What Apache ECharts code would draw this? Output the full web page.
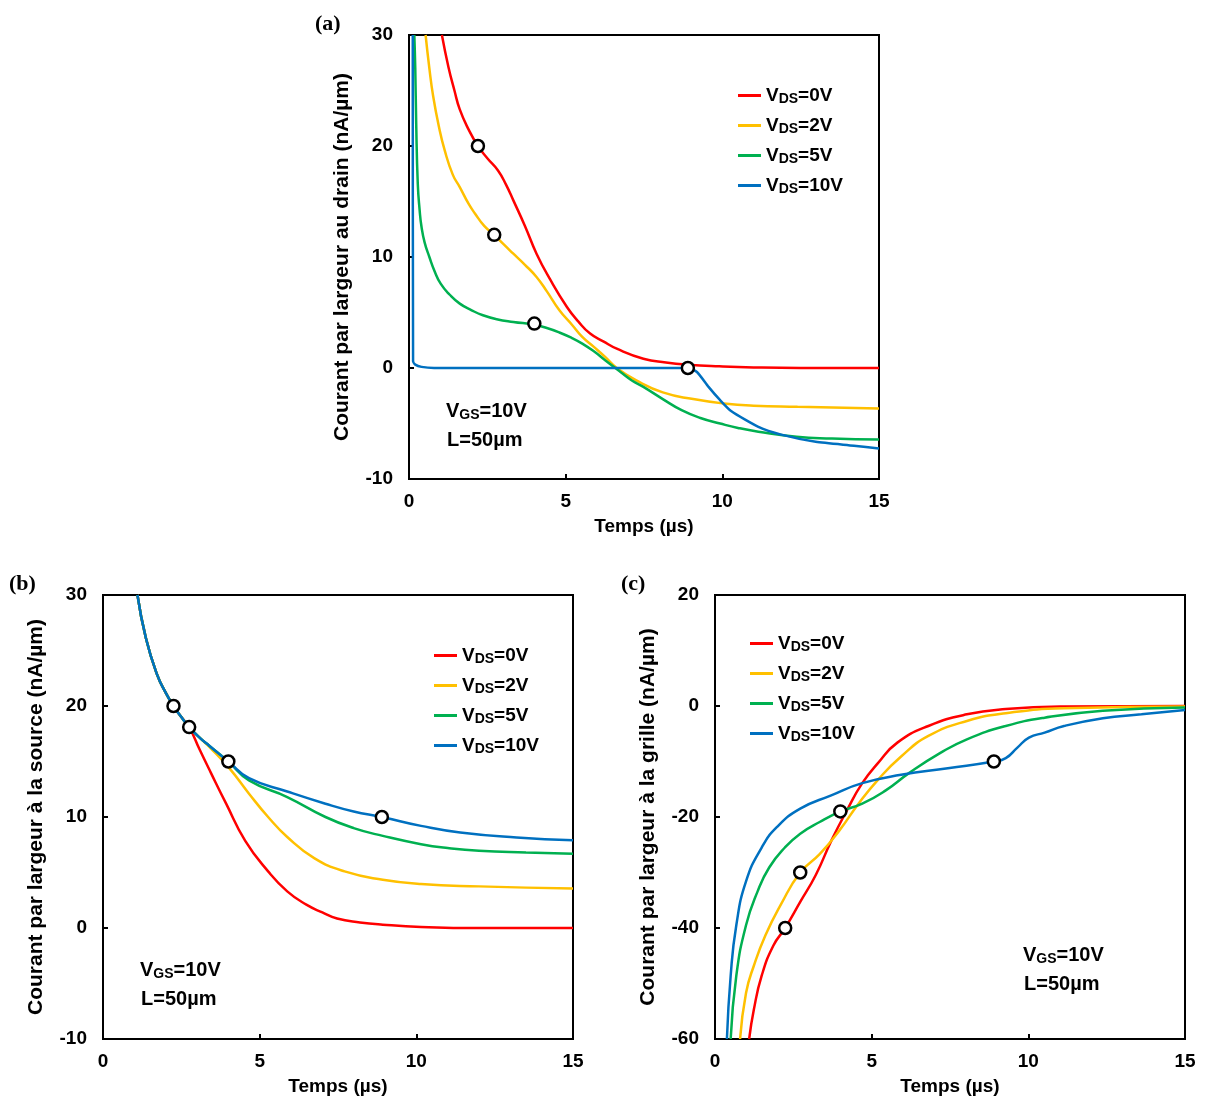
<!DOCTYPE html>
<html><head><meta charset="utf-8">
<script src="https://cdn.jsdelivr.net/npm/echarts@6/dist/echarts.min.js"></script>
<style>html,body{margin:0;padding:0;background:#fff}#c{width:1207px;height:1100px}</style>
</head><body><div id="c"></div>
<script>
// ---- Data (time in µs, current in nA/µm) ----
const seriesNames = ['VDS=0V', 'VDS=2V', 'VDS=5V', 'VDS=10V'];
const seriesColors = ['#FF0000', '#FFC000', '#00B050', '#0070C0'];
const xTicks = [0, 5, 10, 15];

// (a) drain current
const drain0 = [[1.05,30],[1.26,27.1],[1.45,25],[1.62,23.3],[1.9,21.5],[2.2,20],[2.5,18.9],[2.84,17.8],[3.1,16.5],[3.33,15.1],[3.7,12.8],[4.07,10.3],[4.5,8],[5.04,5.5],[5.4,4.2],[5.78,3.1],[6.2,2.4],[6.63,1.74],[7.48,0.84],[8.2,0.5],[8.9,0.3],[9.9,0.15],[11,0.05],[12.5,0],[15,0]];
const drain2 = [[0.53,30],[0.65,27],[0.77,24.5],[0.95,21.8],[1.14,19.6],[1.4,17.4],[1.62,16.3],[1.9,14.8],[2.11,13.9],[2.4,12.8],[2.72,12],[3.0,11.2],[3.33,10.3],[3.7,9.3],[4.07,8.2],[4.4,6.9],[4.8,5.2],[5.2,3.9],[5.53,2.8],[5.9,1.9],[6.26,1.0],[6.63,0],[7.24,-1.1],[8.1,-2.2],[9.07,-2.8],[10.05,-3.2],[11,-3.4],[12.4,-3.5],[15,-3.65]];
const drain5 = [[0.17,30],[0.2,27],[0.23,22],[0.28,16.6],[0.34,14.2],[0.4,12.7],[0.5,11.3],[0.65,10],[0.82,8.7],[1.01,7.6],[1.3,6.6],[1.62,5.8],[2.0,5.2],[2.36,4.75],[2.8,4.4],[3.33,4.15],[4.0,3.9],[4.4,3.6],[4.8,3.2],[5.2,2.7],[5.53,2.2],[5.9,1.5],[6.26,0.7],[6.75,-0.36],[7.1,-1.1],[7.48,-1.7],[8.1,-2.8],[8.7,-3.8],[9.3,-4.5],[9.93,-5],[10.5,-5.4],[11.15,-5.74],[12.37,-6.2],[13.5,-6.35],[15,-6.45]];
const drain10 = [[0.12,30],[0.13,0.6],[0.2,0.3],[0.4,0.1],[0.8,0],[5,0],[8.9,0],[9.19,-0.36],[9.56,-1.7],[9.93,-2.9],[10.29,-3.9],[11.15,-5.3],[11.88,-6.0],[12.98,-6.65],[14.2,-7.0],[15,-7.25]];
const drainMarks = [[2.2,20],[2.72,12],[4.0,4],[8.9,0]];

// (b) source current
const source0 = [[1.1,30],[1.37,26.1],[1.73,22.8],[2.0,21.2],[2.25,20],[2.5,19],[2.75,18.1],[3.08,16.1],[3.44,14],[3.93,11.2],[4.54,7.85],[5.27,5.1],[5.88,3.3],[6.49,2.1],[7.0,1.4],[7.47,0.85],[8.2,0.5],[8.93,0.3],[10.15,0.1],[12,0],[15,0]];
const source2 = [[1.1,30],[1.37,26.1],[1.73,22.8],[2.0,21.2],[2.25,20],[2.5,19],[2.75,18.1],[3.1,17.1],[3.4,16.3],[4.03,14.4],[4.66,12.1],[5.27,10],[5.88,8.2],[6.74,6.3],[7.71,5.1],[8.93,4.35],[10.15,3.96],[12,3.75],[15,3.55]];
const source5 = [[1.1,30],[1.37,26.1],[1.73,22.8],[2.0,21.2],[2.25,20],[2.5,19],[2.75,18.1],[3.1,17.1],[3.4,16.4],[4.0,15],[4.66,13.3],[5.88,11.8],[7.1,10],[8.0,9.0],[8.93,8.3],[10.15,7.55],[11,7.2],[12,6.95],[13.5,6.8],[15,6.7]];
const source10 = [[1.1,30],[1.37,26.1],[1.73,22.8],[2.0,21.2],[2.25,20],[2.5,19],[2.75,18.1],[3.1,17.1],[3.4,16.4],[4.0,15],[4.66,13.5],[5.88,12.3],[7.1,11.2],[8.0,10.5],[8.9,10],[10.15,9.2],[11.4,8.6],[13.2,8.15],[15,7.9]];
const sourceMarks = [[2.25,20],[2.75,18.1],[4.0,15],[8.9,10]];

// (c) gate current
const gate0 = [[1.09,-60],[1.24,-54.7],[1.49,-48.6],[1.86,-43.2],[2.24,-40],[2.72,-35.3],[3.22,-30.4],[3.71,-24.3],[4.21,-18.8],[4.7,-13.9],[5.2,-10.3],[5.82,-6.6],[6.81,-3.6],[8.04,-1.5],[9.28,-0.55],[11.14,-0.1],[15,0]];
const gate2 = [[0.8,-60],[0.99,-51.7],[1.24,-46.8],[1.61,-41.3],[2.1,-35.8],[2.72,-30],[3.34,-26.7],[3.96,-22.5],[4.58,-17.6],[5.2,-13.3],[5.94,-9.1],[6.81,-5.4],[8.04,-2.7],[9.28,-1.3],[11.14,-0.4],[15,-0.1]];
const gate5 = [[0.5,-60],[0.68,-48.6],[0.99,-39.5],[1.36,-33.4],[1.73,-29.1],[2.23,-25.5],[2.72,-23],[3.34,-20.9],[4.01,-19],[4.7,-17.6],[5.45,-15.2],[6.19,-12.1],[7.18,-8.5],[8.04,-6],[9.28,-3.6],[10.52,-2.1],[12.38,-0.85],[15,-0.25]];
const gate10 = [[0.38,-60],[0.5,-48.6],[0.68,-39.5],[0.99,-31.6],[1.49,-25.5],[1.98,-21.8],[2.72,-18.5],[3.71,-16.1],[4.7,-13.9],[5.94,-12.4],[7.43,-11.2],[8.9,-10],[9.28,-9.4],[9.65,-7.5],[10.02,-5.7],[10.52,-4.8],[11.14,-3.6],[12.38,-2.2],[13.61,-1.5],[15,-0.7]];
const gateMarks = [[2.24,-40],[2.72,-30],[4.0,-19],[8.9,-10]];

const yNames = ['Courant par largeur au drain (nA/µm)', 'Courant par largeur à la source (nA/µm)', 'Courant par largeur à la grille (nA/µm)'];
const xName = 'Temps (µs)';
const panelLabels = ['(a)', '(b)', '(c)'];

// ---- Chart ----
const FF = 'Arial, "Liberation Sans", sans-serif';
function mkRich(vs, ss) {
  return {
    v: {fontSize: vs, fontWeight: 'bold', fontFamily: FF, color: '#000', lineHeight: 22},
    s: {fontSize: ss, fontWeight: 'bold', fontFamily: FF, color: '#000', lineHeight: 12, verticalAlign: 'bottom'}
  };
}
const legendRich = mkRich(19, 14);
const noteRich = mkRich(20, 14);
function sub(name) {
  const m = name.match(/^V(DS|GS)(.*)$/);
  return m ? '{v|V}{s|' + m[1] + '}{v|' + m[2] + '}' : '{v|' + name + '}';
}

const grids = [
  {left: 409, top: 35, width: 470, height: 444},
  {left: 103, top: 595, width: 470, height: 444},
  {left: 715, top: 595, width: 470, height: 444}
];
const yRanges = [[-10, 30, 10], [-10, 30, 10], [-60, 20, 20]];

const gridOpts = grids.map(g => Object.assign({show: true, borderColor: '#000', borderWidth: 2, backgroundColor: 'transparent'}, g));
const xAxes = grids.map((g, i) => ({
  gridIndex: i, type: 'value', min: xTicks[0], max: xTicks[xTicks.length - 1], interval: 5,
  name: xName, nameLocation: 'middle', nameGap: 38,
  nameTextStyle: {fontSize: 19, fontWeight: 'bold', fontFamily: FF, color: '#000'},
  axisLine: {onZero: false, lineStyle: {color: '#000', width: 2}},
  axisTick: {inside: true, length: 5, lineStyle: {color: '#000', width: 2}},
  axisLabel: {fontSize: 19, fontWeight: 'bold', fontFamily: FF, color: '#000', margin: 13},
  splitLine: {show: false}
}));
const yAxes = grids.map((g, i) => ({
  gridIndex: i, type: 'value', min: yRanges[i][0], max: yRanges[i][1], interval: yRanges[i][2],
  name: yNames[i], nameLocation: 'middle', nameGap: 56, nameRotate: 90,
  nameTextStyle: {fontSize: 21, fontWeight: 'bold', fontFamily: FF, color: '#000'},
  axisLine: {onZero: false, lineStyle: {color: '#000', width: 2}},
  axisTick: {inside: true, length: 5, lineStyle: {color: '#000', width: 2}},
  axisLabel: {fontSize: 19, fontWeight: 'bold', fontFamily: FF, color: '#000', margin: 16},
  splitLine: {show: false}
}));

const panelData = [
  [drain0, drain2, drain5, drain10, drainMarks],
  [source0, source2, source5, source10, sourceMarks],
  [gate0, gate2, gate5, gate10, gateMarks]
];
const series = [];
panelData.forEach((pd, gi) => {
  for (let k = 0; k < 4; k++) {
    series.push({
      type: 'line', name: seriesNames[k], xAxisIndex: gi, yAxisIndex: gi,
      data: pd[k], showSymbol: false, symbol: 'none',
      smooth: (gi === 0 && k === 3) ? 0.2 : 0.5,
      lineStyle: {color: seriesColors[k], width: 2.5}, itemStyle: {color: seriesColors[k]},
      z: 2, clip: true, animation: false
    });
  }
  series.push({
    type: 'scatter', name: 'marks' + gi, xAxisIndex: gi, yAxisIndex: gi, data: pd[4],
    symbol: 'circle', symbolSize: 12,
    itemStyle: {color: '#fff', borderColor: '#000', borderWidth: 2.5, opacity: 1},
    z: 5, animation: false
  });
});

const legendPos = [{left: 738, top: 86}, {left: 434, top: 646}, {left: 750, top: 634}];
const legends = legendPos.map(p => Object.assign({
  orient: 'vertical', data: seriesNames, icon: 'rect', itemWidth: 23, itemHeight: 3,
  itemGap: 9.5, formatter: sub, selectedMode: false, padding: 0,
  textStyle: {rich: legendRich}
}, p));

const noteCfg = [{x: 446, y: 401}, {x: 140, y: 960}, {x: 1023, y: 945}];
const graphic = [];
noteCfg.forEach(n => {
  graphic.push({type: 'text', left: n.x, top: n.y, style: {text: sub('VGS=10V'), rich: noteRich}});
  graphic.push({type: 'text', left: n.x + 1, top: n.y + 29, style: {text: 'L=50µm', fontSize: 20, fontWeight: 'bold', fontFamily: FF, fill: '#000'}});
});
const labelPos = [{x: 315, y: 13}, {x: 9, y: 573}, {x: 621, y: 573}];
labelPos.forEach((p, i) => {
  graphic.push({type: 'text', left: p.x, top: p.y, style: {text: panelLabels[i], fontSize: 22, fontWeight: 'bold', fontFamily: '"Liberation Serif", "Times New Roman", serif', fill: '#000'}});
});

const chart = echarts.init(document.getElementById('c'), null, {renderer: 'canvas'});
chart.setOption({
  animation: false, backgroundColor: '#fff',
  grid: gridOpts, xAxis: xAxes, yAxis: yAxes, series: series, legend: legends, graphic: graphic
});
</script></body></html>
